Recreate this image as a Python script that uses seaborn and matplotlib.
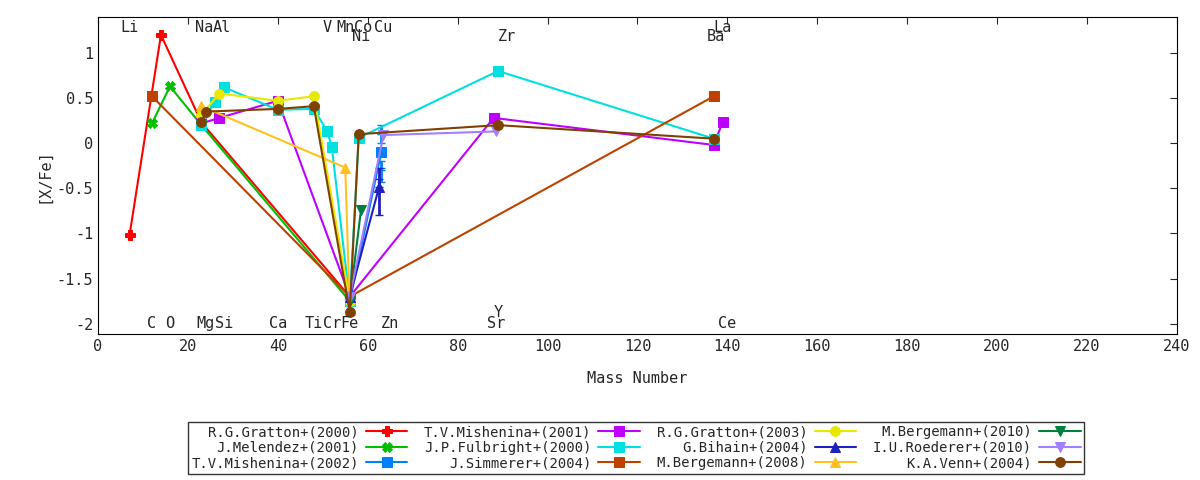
import pandas as pd
import numpy as np
import matplotlib
matplotlib.use("Agg")
import matplotlib.pyplot as plt
import seaborn as sb

sb.set_style("white")
plt.rcParams["font.family"] = ["DejaVu Sans Mono", "DejaVu Sans"]

# series: label, x (mass number), y ([X/Fe]), yerr
names = ["R.G.Gratton+(2000)", "J.Melendez+(2001)", "T.V.Mishenina+(2002)",
         "T.V.Mishenina+(2001)", "J.P.Fulbright+(2000)", "J.Simmerer+(2004)",
         "R.G.Gratton+(2003)", "G.Bihain+(2004)", "M.Bergemann+(2008)",
         "M.Bergemann+(2010)", "I.U.Roederer+(2010)", "K.A.Venn+(2004)"]
xs = [
    [7, 14, 23, 56],
    [12, 16, 23, 56],
    [56, 63, 63, 63, 63],
    [23, 27, 40, 56, 88, 137, 139],
    [23, 26, 28, 40, 48, 51, 52, 56, 58, 89, 137],
    [12, 56, 137],
    [23, 23, 27, 40, 48, 56],
    [56, 62.5, 62.5],
    [23, 55, 56],
    [56, 58.5],
    [56, 63.5, 88.5],
    [23, 24, 40, 48, 56, 58, 89, 137],
]
ys = [
    [-1.02, 1.2, 0.23, -1.7],
    [0.22, 0.63, 0.2, -1.75],
    [-1.75, -0.35, -0.25, 0.05, 0.15],
    [0.22, 0.28, 0.47, -1.7, 0.28, -0.02, 0.24],
    [0.2, 0.46, 0.62, 0.37, 0.38, 0.13, -0.04, -1.75, 0.06, 0.8, 0.05],
    [0.52, -1.7, 0.52],
    [0.18, 0.45, 0.55, 0.47, 0.52, -1.75],
    [-1.7, -0.6, -0.38],
    [0.41, -0.27, -1.85],
    [-1.75, -0.74],
    [-1.7, 0.09, 0.13],
    [0.23, 0.35, 0.38, 0.41, -1.87, 0.1, 0.2, 0.05],
]
yerrs = [None, None, [0.05, 0.08, 0.05, 0.05, 0.05], None, None, None, None,
         [0.05, 0.2, 0.1], None, None, None, None]
colors = ["#ff0000", "#00c000", "#0080ff", "#c000ff", "#00e0e0", "#c04000",
          "#e8e800", "#2020c0", "#ffc020", "#008040", "#a080ff", "#804000"]
markers = ["P", "X", "s", "s", "s", "s", "o", "^", "^", "v", "v", "o"]

top_el = [("Li", 7, 1.28), ("Na", 23.5, 1.28), ("Al", 27.5, 1.28), ("V", 51, 1.28),
          ("Mn", 55, 1.28), ("Co", 59, 1.28), ("Ni", 58.5, 1.18), ("Cu", 63.5, 1.28),
          ("Zr", 91, 1.18), ("Ba", 137.5, 1.18), ("La", 139, 1.28)]
bot_el = [("C", 12, -2.0), ("O", 16, -2.0), ("Mg", 24, -2.0), ("Si", 28, -2.0),
          ("Ca", 40, -2.0), ("Ti", 48, -2.0), ("Cr", 52, -2.0), ("Fe", 56, -2.0),
          ("Zn", 65, -2.0), ("Sr", 88.5, -2.0), ("Y", 89, -1.88), ("Ce", 140, -2.0)]

fig = plt.figure(figsize=(12, 4.8), dpi=100)
ax = fig.add_axes([0.0817, 0.304, 0.899, 0.66])

for i in range(len(names)):
    df = pd.DataFrame({"x": xs[i], "y": ys[i]})
    sb.lineplot(data=df, x="x", y="y", sort=False, color=colors[i], marker=markers[i],
                markersize=7, markeredgecolor=colors[i], linewidth=1.5, ax=ax, label=names[i])
    if yerrs[i] is not None:
        ax.errorbar(xs[i], ys[i], yerr=yerrs[i], fmt="none", ecolor=colors[i],
                    elinewidth=2, capsize=3)

for name, x, y in top_el + bot_el:
    ax.text(x, y, name, ha="center", va="center", fontsize=11)

ax.set_xlim(0, 240)
ax.set_ylim(-2.115, 1.395)
ax.set_xticks(range(0, 241, 20))
ax.set_yticks([-2, -1.5, -1, -0.5, 0, 0.5, 1])
ax.set_yticklabels(["-2", "-1.5", "-1", "-0.5", "0", "0.5", "1"])
ax.tick_params(direction="in", length=5, top=True, right=True, labelsize=11)
for s in ax.spines.values():
    s.set_color("black")
ax.set_xlabel("Mass Number", fontsize=11, labelpad=12)
ax.set_ylabel("[X/Fe]", fontsize=11)

handles, labels = ax.get_legend_handles_labels()
ax.legend(handles, labels, ncol=4, loc="upper center", bbox_to_anchor=(0.4986, -0.255),
          markerfirst=False, fontsize=10, frameon=True, fancybox=False,
          edgecolor="black", handlelength=3, handletextpad=0.5, columnspacing=1.2,
          borderpad=0.25, labelspacing=0.1)

fig.savefig("out.png")
